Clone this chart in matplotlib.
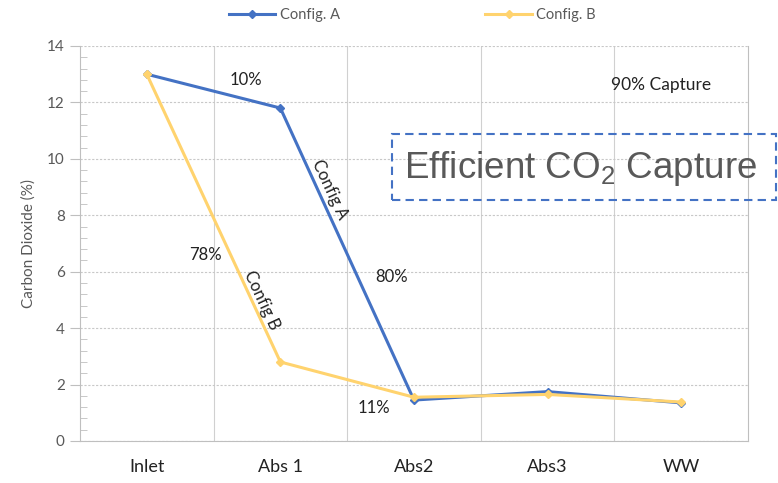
import matplotlib.pyplot as plt
from matplotlib.patches import Rectangle
from matplotlib.ticker import MultipleLocator, FixedLocator

# chart data
stages = ["Inlet", "Abs 1", "Abs2", "Abs3", "WW"]
config_a = [13.0, 11.8, 1.45, 1.75, 1.35]
config_b = [13.0, 2.8, 1.55, 1.65, 1.38]

blue = "#4472C4"
gold = "#FFD36E"
grey = "#595959"

plt.rcParams["mathtext.fontset"] = "custom"
plt.rcParams["mathtext.rm"] = "Liberation Sans"

fig = plt.figure(figsize=(7.78, 4.83), dpi=100)
ax = fig.add_axes([0.1028, 0.087, 0.8586, 0.8178])

x = list(range(len(stages)))
ax.plot(x, config_a, color=blue, lw=2.2, marker="D", ms=4, label="Config. A", zorder=3)
ax.plot(x, config_b, color=gold, lw=2.2, marker="D", ms=4, label="Config. B", zorder=4)

ax.set_xlim(-0.5, len(stages) - 0.5)
ax.set_ylim(0, 14)
ax.set_xticks(x)
ax.set_xticklabels(stages, fontsize=13, family="Lato", color="#222222")
ax.tick_params(axis="x", length=0, pad=13)
ax.xaxis.set_minor_locator(FixedLocator([i + 0.5 for i in range(len(stages) - 1)]))
ax.tick_params(axis="x", which="minor", length=0)

ax.yaxis.set_major_locator(MultipleLocator(2))
ax.yaxis.set_minor_locator(MultipleLocator(0.4))
ax.tick_params(axis="y", which="major", direction="out", length=7, color="#BFBFBF",
               labelsize=11, labelcolor=grey, pad=4)
ax.tick_params(axis="y", which="minor", direction="in", length=5, color="#BFBFBF")
for lab in ax.get_yticklabels():
    lab.set_family("Lato")
ax.set_ylabel("Carbon Dioxide (%)", fontsize=11, color=grey, family="Lato", labelpad=8)

ax.grid(True, axis="y", which="major", color="#C8C8C8", ls=(0, (2, 1.5)), lw=0.8)
ax.grid(True, axis="x", which="minor", color="#D0D0D0", ls="-", lw=0.8)
for side in ["left", "right", "bottom", "top"]:
    ax.spines[side].set_color("#BFBFBF")
ax.spines["top"].set_visible(False)

# annotations
ax.text(0.74, 12.8, "10%", fontsize=12, family="Lato", ha="center", va="center", color="#222222")
ax.text(3.85, 12.6, "90% Capture", fontsize=12.5, family="Lato", ha="center", va="center",
        color="#222222")
ax.text(0.44, 6.6, "78%", fontsize=12, family="Lato", ha="center", va="center", color="#222222")
ax.text(1.83, 5.8, "80%", fontsize=12, family="Lato", ha="center", va="center", color="#222222")
ax.text(1.7, 1.17, "11%", fontsize=12, family="Lato", ha="center", va="center", color="#222222")
ax.text(1.37, 8.9, "Config A", fontsize=12, family="Lato", ha="center", va="center",
        rotation=-65, color="#222222")
ax.text(0.86, 5.0, "Config B", fontsize=12, family="Lato", ha="center", va="center",
        rotation=-65, color="#222222")

# dashed text box
box = Rectangle((392 / 778, 1 - 200 / 483), 384 / 778, 66 / 483, transform=fig.transFigure,
                fill=False, ec=blue, lw=1.5, ls=(0, (4, 2.5)))
fig.patches.append(box)
fig.text(581 / 778, 1 - 168 / 483, "Efficient CO$_2$ Capture", fontsize=26.5,
         family="Liberation Sans", ha="center", va="center", color=grey)

fig.legend(loc="upper center", bbox_to_anchor=(0.53, 1.01), ncol=2, frameon=False,
           columnspacing=10, handlelength=3.2, handletextpad=0.3,
           labelcolor=grey, prop={"family": "Lato", "size": 10.5})

fig.savefig("out.png", dpi=100)
